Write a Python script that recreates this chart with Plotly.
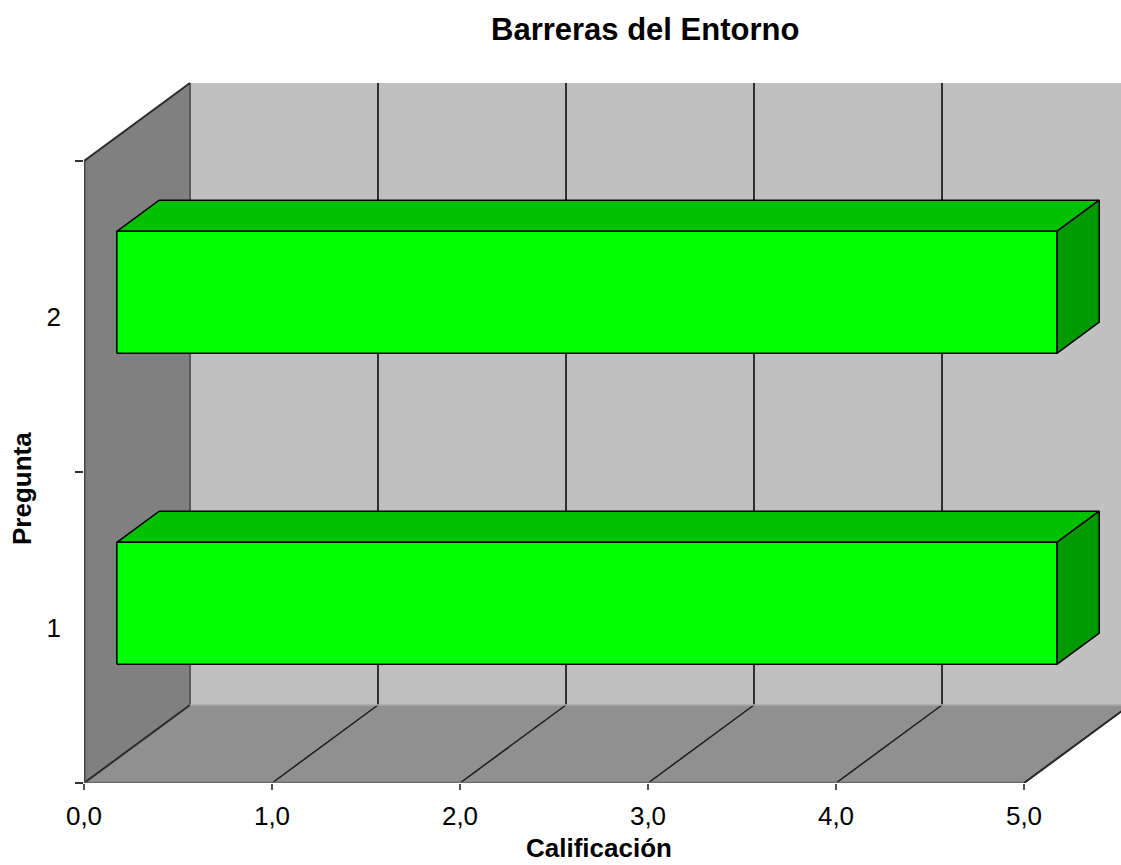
import plotly.graph_objects as go

# ---- data ----
categories = [1, 2]
values = [5.0, 5.0]
x_ticks = [0, 1, 2, 3, 4, 5]
x_tick_labels = ["0,0", "1,0", "2,0", "3,0", "4,0", "5,0"]
y_tick_labels = ["1", "2"]
title_text = "Barreras del Entorno"
x_title = "Calificación"
y_title = "Pregunta"

# ---- geometry (pseudo 3D projection) ----
W, H = 1121, 865
L, T, B = 84, 78, 82
PX_X = 188.0          # pixels per value unit
PX_Y = 311.0          # pixels per category unit
XMIN, XMAX = 0.0, 5.0
YMIN, YMAX = 0.5, 2.5
DX = 106 / PX_X       # depth offset in value units
DY = 78 / PX_Y        # depth offset in category units
BAR_HALF = 0.196
D0, D1 = 0.31, 0.71

plot_w = W - L
plot_h = H - T - B
x_range = [0, plot_w / PX_X]
y_range = [YMIN, YMIN + plot_h / PX_Y]

FONT = "Liberation Sans, Arial, sans-serif"


def P(v, c, d):
    return v + d * DX, c + d * DY


def poly(pts, fill, line_color, line_width):
    xs = [p[0] for p in pts] + [pts[0][0]]
    ys = [p[1] for p in pts] + [pts[0][1]]
    return go.Scatter(x=xs, y=ys, mode="lines", fill="toself", fillcolor=fill,
                      line=dict(color=line_color, width=line_width),
                      hoverinfo="skip", showlegend=False)


def seg(a, b, color, width):
    return go.Scatter(x=[a[0], b[0]], y=[a[1], b[1]], mode="lines",
                      line=dict(color=color, width=width),
                      hoverinfo="skip", showlegend=False)


fig = go.Figure()

# back wall
fig.add_trace(poly([P(XMIN, YMIN, 1), P(XMAX, YMIN, 1), P(XMAX, YMAX, 1), P(XMIN, YMAX, 1)],
                   "#C0C0C0", "rgba(0,0,0,0)", 0))
# side wall
fig.add_trace(poly([P(XMIN, YMIN, 0), P(XMIN, YMIN, 1), P(XMIN, YMAX, 1), P(XMIN, YMAX, 0)],
                   "#808080", "rgba(0,0,0,0)", 0))
# floor
fig.add_trace(poly([P(XMIN, YMIN, 0), P(XMAX, YMIN, 0), P(XMAX, YMIN, 1), P(XMIN, YMIN, 1)],
                   "#909090", "rgba(0,0,0,0)", 0))

# gridlines on back wall and floor
for v in x_ticks[1:]:
    fig.add_trace(seg(P(v, YMIN, 1), P(v, YMAX, 1), "#000000", 1.5))
    fig.add_trace(seg(P(v, YMIN, 0), P(v, YMIN, 1), "#1a1a1a", 1.5))

# wall / floor edges
fig.add_trace(seg(P(XMIN, YMIN, 1), P(XMIN, YMAX, 1), "#5a5a5a", 2))
fig.add_trace(seg(P(XMIN, YMAX, 0), P(XMIN, YMAX, 1), "#2a2a2a", 2))
fig.add_trace(seg(P(XMIN, YMIN, 0), P(XMIN, YMIN, 1), "#2a2a2a", 2))
fig.add_trace(seg(P(XMIN, YMIN, 1), P(XMAX, YMIN, 1), "#a8a8a8", 1.5))
fig.add_trace(seg(P(XMIN, YMIN, 0), P(XMAX, YMIN, 0), "#6a6a6a", 2.5))
fig.add_trace(seg(P(XMIN, YMIN, 0), P(XMIN, YMAX, 0), "#444444", 3))
fig.add_trace(seg(P(XMAX, YMIN, 0), P(XMAX, YMIN, 1), "#2a2a2a", 2))

# bars
for c, v in zip(categories, values):
    lo, hi = c - BAR_HALF, c + BAR_HALF
    fig.add_trace(poly([P(0, hi, D0), P(v, hi, D0), P(v, hi, D1), P(0, hi, D1)],
                       "#00C000", "#000000", 1.5))
    fig.add_trace(poly([P(v, lo, D0), P(v, lo, D1), P(v, hi, D1), P(v, hi, D0)],
                       "#009900", "#000000", 1.5))
    fig.add_trace(poly([P(0, lo, D0), P(v, lo, D0), P(v, hi, D0), P(0, hi, D0)],
                       "#00FF00", "#000000", 1.5))

fig.update_layout(
    width=W, height=H,
    margin=dict(l=L, r=0, t=T, b=B, pad=0),
    paper_bgcolor="white", plot_bgcolor="white",
    showlegend=False,
    font=dict(family=FONT, color="#000000", size=26),
    xaxis=dict(range=x_range, tickvals=x_ticks, ticktext=x_tick_labels,
               ticks="outside", ticklen=6, tickcolor="#555555", tickwidth=1.5,
               ticklabelstandoff=4,
               showgrid=False, zeroline=False, showline=False,
               tickfont=dict(size=26), fixedrange=True),
    yaxis=dict(range=y_range, tickvals=categories, ticktext=y_tick_labels,
               ticks="", showgrid=False, zeroline=False, showline=False,
               ticklabelstandoff=22,
               minor=dict(tick0=0.5, dtick=1, ticks="outside", ticklen=8,
                          tickcolor="#333333", tickwidth=1.5, showgrid=False),
               tickfont=dict(size=26), fixedrange=True),
    annotations=[
        dict(text="<b>" + title_text + "</b>", xref="paper", yref="paper",
             x=(645 - L) / plot_w, y=(H - B - 29) / plot_h, xanchor="center", yanchor="middle",
             showarrow=False, font=dict(size=31, family=FONT)),
        dict(text="<b>" + x_title + "</b>", xref="paper", yref="paper",
             x=(599 - L) / plot_w, y=(H - B - 848) / plot_h, xanchor="center", yanchor="middle",
             showarrow=False, font=dict(size=26, family=FONT)),
        dict(text="<b>" + y_title + "</b>", xref="paper", yref="paper",
             x=(22 - L) / plot_w, y=(H - B - 489) / plot_h, xanchor="center", yanchor="middle",
             textangle=-90, showarrow=False, font=dict(size=26, family=FONT)),
    ],
)

fig.write_html("out.html", config={"displayModeBar": False},
               post_script="document.body.style.margin='0';document.body.style.overflow='hidden';")
